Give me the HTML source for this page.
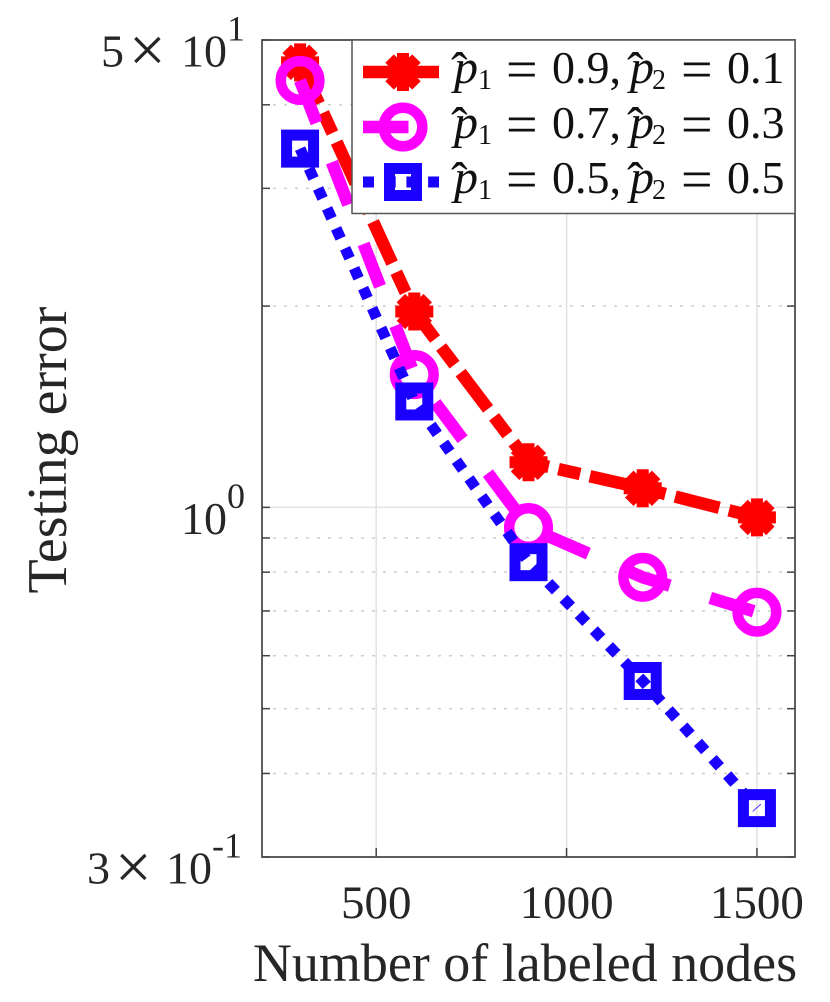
<!DOCTYPE html>
<html lang="en">
<head>
<meta charset="utf-8">
<title>Testing error vs number of labeled nodes</title>
<style>
html,body{margin:0;padding:0;background:#fff;}
svg{display:block;filter:blur(0.35px);}
text{font-family:"Liberation Serif",serif;fill:#262626;}
.math{fill:#111;}
</style>
</head>
<body>
<svg id="chart" xmlns="http://www.w3.org/2000/svg" width="830" height="1002" viewBox="0 0 830 1002">
  <g id="grid"></g>
  <g id="series"></g>
  <g id="axes"></g>
  <g id="legend">
    <rect x="352" y="40" width="443" height="173.5" fill="#fff" stroke="#555" stroke-width="1.5"/>
    <g id="legend-keys"></g>
    <text class="math" font-size="46"><tspan x="454" y="83" font-style="italic" font-size="48">p</tspan><tspan x="451" y="87" font-size="50">&#710;</tspan><tspan x="478" y="89" font-size="28">1</tspan><tspan x="506" y="88" font-size="56">=</tspan><tspan x="552" y="83">0.9,</tspan><tspan x="630" y="83" font-style="italic" font-size="48">p</tspan><tspan x="627" y="87" font-size="50">&#710;</tspan><tspan x="652" y="89" font-size="28">2</tspan><tspan x="681" y="88" font-size="56">=</tspan><tspan x="727" y="83">0.1</tspan></text>
    <text class="math" font-size="46"><tspan x="454" y="138" font-style="italic" font-size="48">p</tspan><tspan x="451" y="142" font-size="50">&#710;</tspan><tspan x="478" y="144" font-size="28">1</tspan><tspan x="506" y="143" font-size="56">=</tspan><tspan x="552" y="138">0.7,</tspan><tspan x="630" y="138" font-style="italic" font-size="48">p</tspan><tspan x="627" y="142" font-size="50">&#710;</tspan><tspan x="652" y="144" font-size="28">2</tspan><tspan x="681" y="143" font-size="56">=</tspan><tspan x="727" y="138">0.3</tspan></text>
    <text class="math" font-size="46"><tspan x="454" y="193" font-style="italic" font-size="48">p</tspan><tspan x="451" y="197" font-size="50">&#710;</tspan><tspan x="478" y="199" font-size="28">1</tspan><tspan x="506" y="198" font-size="56">=</tspan><tspan x="552" y="193">0.5,</tspan><tspan x="630" y="193" font-style="italic" font-size="48">p</tspan><tspan x="627" y="197" font-size="50">&#710;</tspan><tspan x="652" y="199" font-size="28">2</tspan><tspan x="681" y="198" font-size="56">=</tspan><tspan x="727" y="193">0.5</tspan></text>
  </g>
  <text x="525" y="981" text-anchor="middle" font-size="54">Number of labeled nodes</text>
  <text transform="translate(66,450) rotate(-90)" text-anchor="middle" font-size="56">Testing error</text>
</svg>
<script>
var labeledNodes = [300, 600, 900, 1200, 1500];
var errorP09 = [4.63, 1.963, 1.168, 1.068, 0.966];
var errorP07 = [4.35, 1.58, 0.933, 0.786, 0.697];
var errorP05 = [3.44, 1.44, 0.828, 0.55, 0.355];
var xTickValues = [500, 1000, 1500];
var yMinorValues = [0.4, 0.5, 0.6, 0.7, 0.8, 0.9, 2, 3, 4];
var yMajorValues = [0.3, 1, 5];
var yMantissaLabels = ["3", "", "5"];
var yBaseLabels = ["10", "10", "10"];
var yExponentLabels = ["-1", "0", "1"];

var NS = "http://www.w3.org/2000/svg";
var L = 262, R = 795, T = 40, B = 857;
var xMin = 200, xMax = 1600, yMin = 0.3, yMax = 5;
function xScale(v){ return L + (v - xMin) * (R - L) / (xMax - xMin); }
function yScale(v){ return B - (Math.log10(v) - Math.log10(yMin)) * (B - T) / (Math.log10(yMax) - Math.log10(yMin)); }

function make(parent, tag, attrs, text){
  var el = document.createElementNS(NS, tag);
  for (var k in attrs) el.setAttribute(k, attrs[k]);
  if (text !== undefined) el.textContent = text;
  parent.appendChild(el);
  return el;
}

var gridG = document.getElementById("grid");
var seriesG = document.getElementById("series");
var axesG = document.getElementById("axes");
var keysG = document.getElementById("legend-keys");
var AXIS = "#444";

/* grid */
xTickValues.forEach(function(v){
  var line = make(gridG, "line", {x1:xScale(v), x2:xScale(v), y1:T, y2:B, stroke:"#e2e2e2", "stroke-width":1.6});
  
  
});
yMajorValues.forEach(function(v){
  var line = make(gridG, "line", {x1:L, x2:R, y1:yScale(v), y2:yScale(v), stroke:"#e2e2e2", "stroke-width":1.6});
  
  
});
yMinorValues.forEach(function(v){
  var line = make(gridG, "line", {x1:L, x2:R, y1:yScale(v), y2:yScale(v), stroke:"#d0d0d0", "stroke-width":1.6, "stroke-dasharray":"3 8"});
  
  
});

/* marker painters */
function drawStar(g, cx, cy, color){
  [0, 45, 90, 135].forEach(function(a){
    var r = 19, c = Math.cos(a * Math.PI / 180), s = Math.sin(a * Math.PI / 180);
    var ray = make(g, "line", {x1:cx - r * c, y1:cy - r * s, x2:cx + r * c, y2:cy + r * s, stroke:color, "stroke-width":12});
    
    
  });
  var hub = make(g, "circle", {cx:cx, cy:cy, r:14, fill:color});
  
  
}
function drawCircle(g, cx, cy, color){
  var ring = make(g, "circle", {cx:cx, cy:cy, r:19.3, fill:"none", stroke:color, "stroke-width":10.5});
  
  
}
function drawSquare(g, cx, cy, color){
  var sq = make(g, "rect", {x:cx - 13.5, y:cy - 13.5, width:27, height:27, fill:"none", stroke:color, "stroke-width":11});
  
  
}

/* series */
function drawSeries(values, color, dash, width, marker, name){
  var g = make(seriesG, "g", {});
  
  
  var pts = values.map(function(v, i){ return xScale(labeledNodes[i]) + "," + yScale(v); }).join(" ");
  var line = make(g, "polyline", {points:pts, fill:"none", stroke:color, "stroke-width":width, "stroke-dasharray":dash, "stroke-linejoin":"round"});
  
  
  values.forEach(function(v, i){
    marker(g, xScale(labeledNodes[i]), yScale(v), color);
  });
}
var RED = "#ff0000", MAG = "#ff00ff", BLUE = "#1a00ff";
var DASH_RED = "45.5 10 22.2 10", DASH_MAG = "45.5 42.2", DASH_BLUE = "10.94 10.94";
drawSeries(errorP09, RED, DASH_RED, 12.5, drawStar, "series-p1-0.9");
drawSeries(errorP07, MAG, DASH_MAG, 12.5, drawCircle, "series-p1-0.7");
drawSeries(errorP05, BLUE, DASH_BLUE, 11, drawSquare, "series-p1-0.5");

/* axes */
var box = make(axesG, "rect", {x:L, y:T, width:R - L, height:B - T, fill:"none", stroke:AXIS, "stroke-width":1.7});



xTickValues.forEach(function(v){
  var x = xScale(v);
  var tickB = make(axesG, "line", {x1:x, x2:x, y1:B, y2:B - 9, stroke:AXIS, "stroke-width":1.5});
  
  
  var tickT = make(axesG, "line", {x1:x, x2:x, y1:T, y2:T + 9, stroke:AXIS, "stroke-width":1.5});
  
  
  var label = make(axesG, "text", {x:x, y:918, "text-anchor":"middle", "font-size":47}, String(v));
  
  
});
yMinorValues.concat(yMajorValues).forEach(function(v){
  var y = yScale(v);
  var tickL = make(axesG, "line", {x1:L, x2:L + 8, y1:y, y2:y, stroke:AXIS, "stroke-width":1.5});
  
  
  var tickR = make(axesG, "line", {x1:R, x2:R - 8, y1:y, y2:y, stroke:AXIS, "stroke-width":1.5});
  
  
});
yMajorValues.forEach(function(v, i){
  var base = yScale(v) + 26.5;
  var sup = yScale(v) + 0.5;
  var baseX = i === 0 ? 166 : 181;
  if (yMantissaLabels[i]) {
    var man = make(axesG, "text", {x:baseX - (i === 0 ? 79 : 80), y:base, "font-size":46}, yMantissaLabels[i]);
    
    
    var times = make(axesG, "text", {x:baseX - (i === 0 ? 51 : 52), y:base + 5, "font-size":65}, "\u00d7");
    
    
  }
  var b = make(axesG, "text", {x:baseX, y:base, "font-size":46}, yBaseLabels[i]);
  
  
  var expX = i === 0 ? 212 : 227;
  var e = make(axesG, "text", {x:expX, y:sup, "font-size":36}, yExponentLabels[i]);
  
  
});

/* legend keys */
function drawKey(y, color, dash, width, marker, lineEnd, name){
  var g = make(keysG, "g", {});
  
  
  var line = make(g, "line", {x1:363, x2:lineEnd, y1:y, y2:y, stroke:color, "stroke-width":width, "stroke-dasharray":dash});
  
  
  marker(g, 403, y, color);
}
drawKey(72, RED, DASH_RED, 12.5, drawStar, 439, "legend-key-p1-0.9");
drawKey(127, MAG, DASH_MAG, 12.5, drawCircle, 439, "legend-key-p1-0.7");
drawKey(182, BLUE, "11 10.7", 11, drawSquare, 439, "legend-key-p1-0.5");
</script>
</body>
</html>
